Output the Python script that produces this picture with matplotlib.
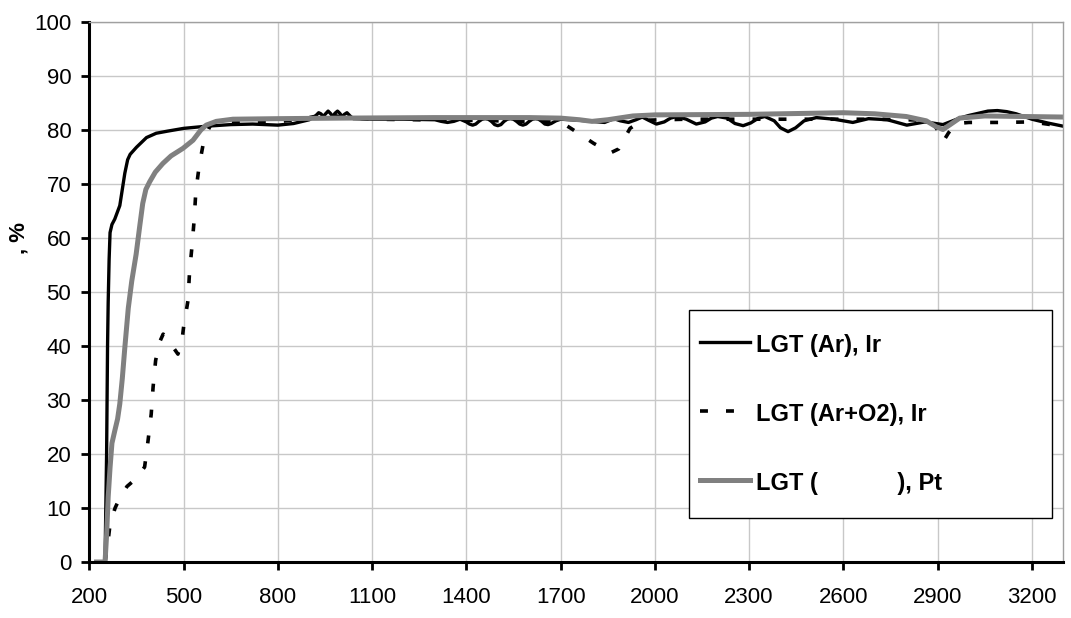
import matplotlib.pyplot as plt

plt.rcParams['font.family'] = ['Liberation Sans', 'DejaVu Sans']

# LGT (Ar), Ir
ar_x = [250, 255, 258, 260, 263, 266, 272, 281, 297, 305, 313, 322, 330, 350, 382, 413, 450, 500,
        572, 650, 720, 800, 850, 900, 920, 930, 937, 945, 952, 960, 967, 975, 982, 990, 997, 1005,
        1012, 1020, 1030, 1040, 1100, 1200, 1300, 1320, 1340, 1360, 1380, 1400, 1410, 1420, 1430,
        1440, 1450, 1460, 1470, 1480, 1490, 1500, 1510, 1520, 1530, 1540, 1550, 1560, 1570, 1580,
        1590, 1600, 1610, 1620, 1630, 1640, 1650, 1660, 1670, 1685, 1700, 1760, 1800, 1840, 1870,
        1890, 1916, 1940, 1960, 1980, 2005, 2030, 2050, 2070, 2100, 2132, 2160, 2180, 2200, 2230,
        2255, 2281, 2305, 2330, 2350, 2380, 2400, 2424, 2448, 2475, 2514, 2570, 2630, 2680, 2740,
        2802, 2860, 2917, 2970, 3000, 3030, 3060, 3090, 3120, 3150, 3200, 3250, 3300]
ar_y = [0, 20, 40, 48, 56, 61, 62.5, 63.5, 66, 69, 72, 74.5, 75.5, 76.8, 78.6, 79.4, 79.8, 80.3,
        80.7, 81.0, 81.1, 80.9, 81.2, 81.9, 82.6, 83.2, 83.0, 82.5, 83.0, 83.5, 83.1, 82.5, 83.1, 83.5, 83.1, 82.5,
        82.9, 83.2, 82.6, 82.1, 82.0, 82.0, 81.9, 81.6, 81.4, 81.6, 82.0, 81.5, 81.1, 80.9, 81.1,
        81.6, 82.0, 82.1, 82.0, 81.6, 81.0, 80.8, 81.0, 81.6, 82.0, 82.1, 82.0, 81.6, 81.1, 80.9,
        81.1, 81.6, 82.0, 82.1, 82.0, 81.6, 81.1, 81.0, 81.2, 81.7, 82.0, 81.8, 81.6, 81.4, 82.1,
        81.7, 81.4, 81.9, 82.4, 81.8, 81.1, 81.5, 82.2, 82.5, 82.0, 81.1, 81.5, 82.2, 82.5, 82.2,
        81.2, 80.8, 81.3, 82.2, 82.5, 81.7, 80.4, 79.7, 80.4, 81.7, 82.3, 82.0, 81.4, 82.1, 81.9,
        80.9, 81.5, 81.0, 82.2, 82.7, 83.1, 83.5, 83.6, 83.4, 83.0, 82.0, 81.3, 80.7]

# LGT (Ar+O2), Ir
ar_o2_x = [250, 258, 266, 282, 298, 320, 340, 360, 376, 387, 397, 403, 411, 422, 435, 450, 470, 482,
           495, 500, 514, 519, 527, 534, 539, 550, 566, 585, 620, 700, 800, 900, 960, 1000, 1100,
           1400, 1700, 1733, 1780, 1806, 1860, 1885, 1921, 1960, 2100, 2400, 2700, 2880, 2905, 2917,
           2935, 2960, 3000, 3100, 3200, 3260, 3300]
ar_o2_y = [0, 3, 7, 10, 12, 14, 15, 16.3, 17.6, 22.5, 27.4, 32.4, 37.3, 40.5, 42.2, 41.5, 39.5, 38.5,
           41, 43.5, 48.4, 53.7, 58.6, 63.6, 68.6, 73.5, 78.5, 80.8, 81.5, 81.6, 81.5, 82.3, 83.0, 82.4, 82.0,
           81.8, 81.5, 80.3, 78.5, 77.5, 75.8, 76.5, 80.3, 81.8, 82.0, 82.0, 82.0, 81.8, 79.5, 77.8,
           79.5, 81.2, 81.4, 81.4, 81.5, 81.0, 80.0]

# LGT ( ), Pt
pt_x = [223, 250, 255, 260, 266, 272, 281, 290, 297, 305, 313, 324, 335, 349, 360, 370, 380, 392,
        410, 434, 460, 498, 530, 555, 572, 604, 657, 800, 1000, 1300, 1600, 1700, 1760, 1800, 1850,
        1930, 2000, 2300, 2600, 2700, 2800, 2864, 2895, 2917, 2940, 2970, 3050, 3300]
pt_y = [0, 0, 5, 12, 17.5, 22, 24.3, 26.5, 29.3, 34, 39.7, 47, 52, 57, 62, 66.4, 69, 70.4,
        72.2, 73.8, 75.2, 76.6, 78.1, 80, 80.9, 81.6, 82.0, 82.1, 82.2, 82.3, 82.3, 82.2, 81.9, 81.6, 81.9,
        82.6, 82.8, 82.9, 83.2, 83.0, 82.5, 81.7, 80.6, 80.1, 81.0, 82.2, 82.6, 82.4]

labels = ['LGT (Ar), Ir', 'LGT (Ar+O2), Ir', 'LGT (            ), Pt']
x_ticks = list(range(200, 3300, 300))
y_ticks = list(range(0, 101, 10))

fig = plt.figure(figsize=(10.71, 6.18), dpi=100)
ax = fig.add_axes([0.0834, 0.0906, 0.9094, 0.8738])

ax.plot(ar_x, ar_y, color='black', lw=2.4, label=labels[0])
ax.plot(ar_o2_x, ar_o2_y, color='black', lw=2.6, dashes=(2.2, 5), label=labels[1])
ax.plot(pt_x, pt_y, color='#808080', lw=3.6, label=labels[2])

ax.set_xlim(200, 3300)
ax.set_ylim(0, 100)
ax.set_xticks(x_ticks)
ax.set_yticks(y_ticks)
ax.tick_params(axis='both', labelsize=16, length=6, width=2, color='black')
ax.tick_params(axis='x', pad=12)
ax.tick_params(axis='y', pad=7)

ax.grid(True, color='#c8c8c8', lw=1)
ax.set_axisbelow(True)
for side in ['left', 'bottom']:
    ax.spines[side].set_color('black')
    ax.spines[side].set_linewidth(2.2)
for side in ['top', 'right']:
    ax.spines[side].set_color('#a0a0a0')
    ax.spines[side].set_linewidth(1)

ax.set_ylabel(', %', fontsize=16, fontweight='bold')
ax.yaxis.set_label_coords(-0.061, 0.60)

leg = ax.legend(loc='lower left', bbox_to_anchor=(0.616, 0.081, 0.372, 0.391), mode='expand',
                prop={'size': 17, 'weight': 'bold'}, fancybox=False, framealpha=1,
                edgecolor='black', borderpad=0.47, handleheight=2.8, labelspacing=0.85,
                handlelength=2.1, handletextpad=0.25, borderaxespad=0)
leg.get_frame().set_linewidth(1)
# drop the legend lines to the middle of the text
for line in leg.get_lines():
    line.set_ydata([y - 4.3 for y in line.get_ydata()])

plt.savefig('out.png', dpi=100)
plt.close()
